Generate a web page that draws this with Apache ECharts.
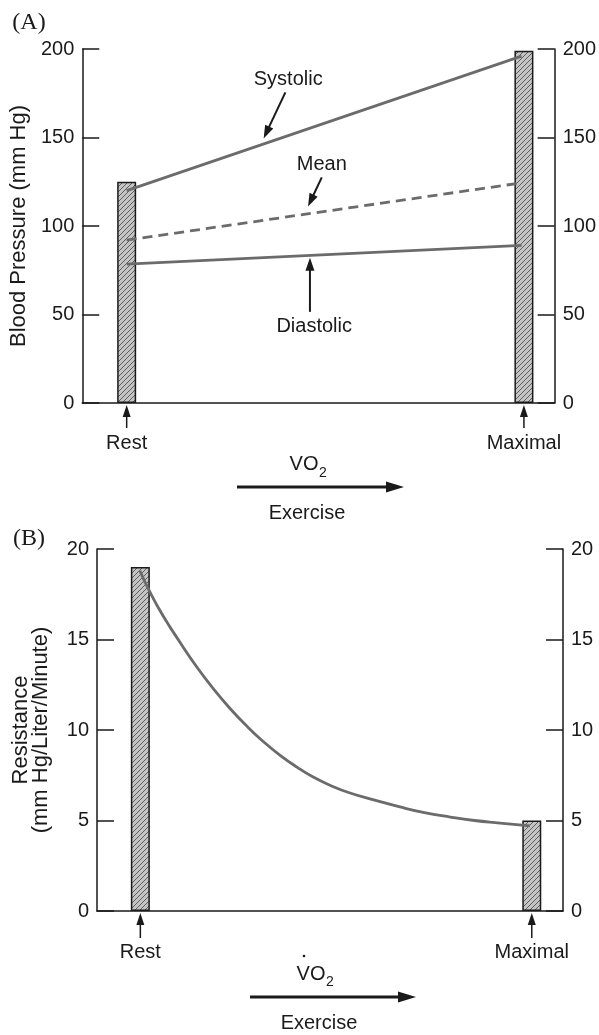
<!DOCTYPE html>
<html><head><meta charset="utf-8">
<script src="https://cdn.jsdelivr.net/npm/echarts@6/dist/echarts.min.js"></script>
<style>html,body{margin:0;padding:0;background:#fff}#c{width:599px;height:1035px}</style>
</head><body><div id="c"></div>
<script>
// ---------- DATA ----------
// Panel A: blood pressure vs VO2 (x = relative position along exercise intensity, 0-100)
const stageNames = ['Rest', 'Maximal'];
const stageXA = [9.4, 93.5];
const barValuesA = [125, 199];
const lineXA = [9.4, 93];
const meanXA = [9.4, 92];
const systolicA = [120, 196];
const meanA = [92, 124];
const diastolicA = [78.5, 89];
const yTicksA = [0, 50, 100, 150, 200];

// Panel B: total peripheral resistance
const stageXB = [9.3, 93.3];
const barValuesB = [19, 5];
const curveXB = [9.2, 11.4, 14.2, 17.8, 21.5, 24.9, 28.5, 32.2, 35.6, 39.3, 42.9, 46.4, 50.0, 54.3, 60, 65.0, 70, 75.8, 81, 86.5, 92.9];
const curveYB = [18.8, 17.6, 16.3, 14.85, 13.45, 12.3, 11.2, 10.2, 9.38, 8.6, 7.95, 7.4, 6.95, 6.52, 6.1, 5.75, 5.45, 5.19, 5.0, 4.86, 4.7];
const yTicksB = [0, 5, 10, 15, 20];

// ---------- STYLE ----------
const FONT = '"Liberation Sans", Arial, sans-serif';
const INK = '#1a1a1a';
const LINE = '#6b6b6b';

function hatchCanvas() {
  const s = 5;
  const c = document.createElement('canvas');
  c.width = s; c.height = s;
  const g = c.getContext('2d');
  g.fillStyle = '#c4c4c4'; g.fillRect(0, 0, s, s);
  g.strokeStyle = '#5e5e5e'; g.lineWidth = 1;
  g.beginPath();
  g.moveTo(0, s); g.lineTo(s, 0);
  g.moveTo(-1, 1); g.lineTo(1, -1);
  g.moveTo(s - 1, s + 1); g.lineTo(s + 1, s - 1);
  g.stroke();
  return c;
}
const hatch = { image: hatchCanvas(), repeat: 'repeat' };

const zip = (xs, ys) => xs.map((x, i) => [x, ys[i]]);

function yAxes(ticks, gridIndex, name, nameGap) {
  const base = {
    type: 'value', gridIndex, min: ticks[0], max: ticks[ticks.length - 1],
    interval: ticks[1] - ticks[0],
    axisLine: { show: true, lineStyle: { color: INK, width: 1.5 } },
    axisTick: { show: true, inside: true, length: 17, lineStyle: { color: INK, width: 1.5 } },
    axisLabel: { fontSize: 20, color: INK, fontFamily: FONT, margin: 8 },
    splitLine: { show: false }
  };
  return [
    Object.assign({}, base, {
      position: 'left', name, nameLocation: 'middle', nameGap, nameRotate: 90,
      nameTextStyle: { fontSize: 22, color: INK, fontFamily: FONT, lineHeight: 20 }
    }),
    Object.assign({}, base, { position: 'right' })
  ];
}
function xAxis(gridIndex, stageX, margin) {
  return {
    type: 'value', gridIndex, min: 0, max: 100,
    axisLine: { show: true, lineStyle: { color: INK, width: 1.5 } },
    axisTick: { show: false },
    splitLine: { show: false },
    axisLabel: {
      customValues: stageX, margin, fontSize: 20, color: INK, fontFamily: FONT,
      formatter: v => stageNames[stageX.indexOf(v)]
    }
  };
}
const barStyle = { color: hatch, borderColor: INK, borderWidth: 1.5 };

const option = {
  animation: false,
  backgroundColor: '#fff',
  grid: [
    { left: 80, right: 42, top: 49, height: 354 },
    { left: 97, right: 36, top: 549, height: 362 }
  ],
  xAxis: [xAxis(0, stageXA, 30), xAxis(1, stageXB, 31)],
  yAxis: [].concat(
    yAxes(yTicksA, 0, 'Blood Pressure (mm Hg)', 41),
    yAxes(yTicksB, 1, 'Resistance\n(mm Hg/Liter/Minute)', 46)
  ),
  series: [
    { type: 'bar', xAxisIndex: 0, yAxisIndex: 0, barWidth: 19, data: zip(stageXA, barValuesA), itemStyle: barStyle },
    { type: 'line', name: 'Systolic', xAxisIndex: 0, yAxisIndex: 0, data: zip(lineXA, systolicA), symbol: 'none', lineStyle: { color: LINE, width: 2.8 } },
    { type: 'line', name: 'Mean', xAxisIndex: 0, yAxisIndex: 0, data: zip(meanXA, meanA), symbol: 'none', lineStyle: { color: LINE, width: 2.8, type: [10, 6] } },
    { type: 'line', name: 'Diastolic', xAxisIndex: 0, yAxisIndex: 0, data: zip(lineXA, diastolicA), symbol: 'none', lineStyle: { color: LINE, width: 2.8 } },
    { type: 'bar', xAxisIndex: 1, yAxisIndex: 2, barWidth: 19, data: zip(stageXB, barValuesB), itemStyle: barStyle },
    { type: 'line', name: 'Resistance', xAxisIndex: 1, yAxisIndex: 2, data: zip(curveXB, curveYB), symbol: 'none', smooth: 0.5, lineStyle: { color: LINE, width: 2.8 } }
  ]
};

const chart = echarts.init(document.getElementById('c'));
chart.setOption(option);

// ---------- ANNOTATIONS (drawn through the axes' scales) ----------
const pA = (x, y) => chart.convertToPixel({ xAxisIndex: 0, yAxisIndex: 0 }, [x, y]);
const pB = (x, y) => chart.convertToPixel({ xAxisIndex: 1, yAxisIndex: 2 }, [x, y]);

function arrow(x1, y1, x2, y2, hl, hw, lw) {
  const a = Math.atan2(y2 - y1, x2 - x1);
  const bx = x2 - hl * Math.cos(a), by = y2 - hl * Math.sin(a);
  const nx = -Math.sin(a) * hw / 2, ny = Math.cos(a) * hw / 2;
  return [
    { type: 'line', silent: true, shape: { x1, y1, x2: bx + hl * 0.3 * Math.cos(a), y2: by + hl * 0.3 * Math.sin(a) }, style: { stroke: INK, lineWidth: lw } },
    { type: 'polygon', silent: true, shape: { points: [[x2, y2], [bx + nx, by + ny], [bx - nx, by - ny]] }, style: { fill: INK } }
  ];
}
function text(str, x, y, size, opts) {
  return {
    type: 'text', silent: true, x, y,
    style: Object.assign({ text: str, fontSize: size, fontFamily: FONT, fill: INK, align: 'center', verticalAlign: 'middle', textAlign: 'center', textVerticalAlign: 'middle' }, opts || {})
  };
}

const labelsA = [
  { t: 'Systolic', at: [43.6, 183], from: [43.0, 175.5], to: [38.4, 149.5] },
  { t: 'Mean', at: [50.7, 134.5], from: [50.7, 127.5], to: [47.8, 111] },
  { t: 'Diastolic', at: [49.1, 43.5], from: [48.2, 51.5], to: [48.2, 82] }
];

let els = [];
labelsA.forEach(l => {
  const t = pA(l.at[0], l.at[1]), f = pA(l.from[0], l.from[1]), e = pA(l.to[0], l.to[1]);
  els.push(text(l.t, t[0], t[1], 20));
  els = els.concat(arrow(f[0], f[1], e[0], e[1], 13, 9, 2));
});
// stage arrows under bars
stageXA.forEach(x => { const b = pA(x, 0); els = els.concat(arrow(b[0], b[1] + 25, b[0], b[1] + 2, 12, 8, 1.5)); });
stageXB.forEach(x => { const b = pB(x, 0); els = els.concat(arrow(b[0], b[1] + 27, b[0], b[1] + 2, 12, 8, 1.5)); });

// panel letters
els.push(text('(A)', 29, 23, 24, { fontFamily: '"Liberation Serif", "Times New Roman", serif' }));
els.push(text('(B)', 29, 539, 24, { fontFamily: '"Liberation Serif", "Times New Roman", serif' }));

// VO2 / Exercise blocks
els.push(text('VO', 304, 464, 20));
els.push(text('2', 323, 473, 14));
els = els.concat(arrow(237, 487, 404, 487, 18, 11, 3));
els.push(text('Exercise', 307, 513, 20));

els.push(text('VO', 311, 974, 20));
els.push(text('2', 330, 982, 14));
els.push({ type: 'circle', silent: true, shape: { cx: 304, cy: 956, r: 1.3 }, style: { fill: INK } });
els = els.concat(arrow(250, 997, 416, 997, 18, 11, 3));
els.push(text('Exercise', 319, 1023, 20));

chart.setOption({ graphic: { elements: els } });
</script>
</body></html>
